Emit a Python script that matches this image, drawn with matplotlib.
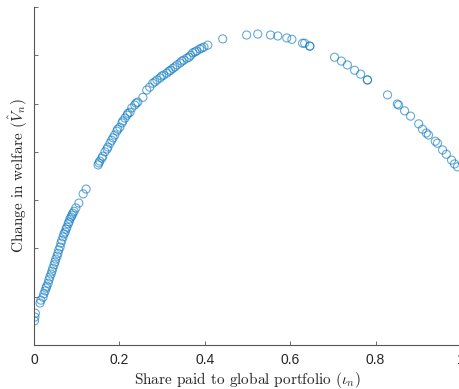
import matplotlib
matplotlib.use("Agg")
import matplotlib.pyplot as plt

# share paid to global portfolio (iota_n)
share = [
    0.001, 0.002, 0.003, 0.014, 0.016, 0.021,
    0.023, 0.026, 0.028, 0.030, 0.033, 0.035, 0.037, 0.040, 0.042, 0.044,
    0.047, 0.049, 0.051, 0.054, 0.056, 0.058, 0.061, 0.063, 0.065, 0.068,
    0.070, 0.073, 0.075, 0.077, 0.080, 0.082, 0.084, 0.087, 0.089, 0.091,
    0.094, 0.098, 0.105, 0.115, 0.122,
    0.150, 0.152, 0.154, 0.159, 0.161, 0.166, 0.171, 0.173, 0.178, 0.182,
    0.185, 0.189, 0.194, 0.196, 0.201, 0.206, 0.208, 0.213, 0.218, 0.220,
    0.225, 0.229, 0.236, 0.239, 0.243, 0.255, 0.264, 0.271, 0.278, 0.283,
    0.288, 0.295, 0.299, 0.304, 0.311, 0.316, 0.320, 0.325, 0.330, 0.335,
    0.342, 0.346, 0.351, 0.358, 0.363, 0.367, 0.372, 0.377, 0.381, 0.388,
    0.393, 0.398, 0.407, 0.442,
    0.498, 0.524, 0.554, 0.571, 0.592, 0.604, 0.629, 0.634, 0.646, 0.646,
    0.704, 0.720, 0.734, 0.751, 0.765, 0.781, 0.781, 0.828, 0.851, 0.854,
    0.868, 0.882, 0.901, 0.910, 0.919, 0.924, 0.940, 0.945, 0.957, 0.966,
    0.978, 0.985, 0.992,
]

# change in welfare (V_n hat), arbitrary units (axis has no tick labels)
welfare = [
    0.50, 0.58, 0.66, 0.87, 0.93, 0.99,
    1.06, 1.12, 1.18, 1.22, 1.28, 1.35, 1.41, 1.47, 1.53, 1.59,
    1.66, 1.72, 1.78, 1.84, 1.90, 1.97, 2.03, 2.11, 2.17, 2.24,
    2.30, 2.34, 2.40, 2.44, 2.51, 2.55, 2.61, 2.65, 2.69, 2.73,
    2.77, 2.84, 2.94, 3.13, 3.23,
    3.73, 3.77, 3.81, 3.87, 3.91, 4.00, 4.06, 4.10, 4.18, 4.24,
    4.29, 4.35, 4.43, 4.47, 4.51, 4.60, 4.64, 4.70, 4.76, 4.80,
    4.82, 4.91, 4.97, 5.01, 5.03, 5.13, 5.28, 5.34, 5.42, 5.45,
    5.49, 5.53, 5.57, 5.59, 5.63, 5.67, 5.69, 5.73, 5.76, 5.80,
    5.84, 5.88, 5.90, 5.94, 5.96, 6.00, 6.05, 6.07, 6.09, 6.13,
    6.15, 6.17, 6.21, 6.34,
    6.42, 6.44, 6.42, 6.40, 6.36, 6.33, 6.25, 6.25, 6.19, 6.19,
    5.96, 5.88, 5.80, 5.69, 5.61, 5.49, 5.49, 5.18, 4.99, 4.97,
    4.85, 4.74, 4.58, 4.47, 4.39, 4.35, 4.22, 4.18, 4.04, 3.95,
    3.83, 3.75, 3.69,
]

x_ticks = [0, 0.2, 0.4, 0.6, 0.8, 1]
x_tick_labels = ["0", "0.2", "0.4", "0.6", "0.8", "1"]
y_ticks = [0, 1, 2, 3, 4, 5, 6, 7]

plt.rcParams["mathtext.fontset"] = "cm"
plt.rcParams["axes.unicode_minus"] = False

fig = plt.figure(figsize=(4.6, 3.89), dpi=100)
ax = fig.add_axes([0.074, 0.113, 0.928, 0.869])

ax.scatter(share, welfare, s=34, facecolors="none", edgecolors="#0072BD",
           linewidths=0.8, alpha=0.6)

ax.set_xlim(0, 1)
ax.set_ylim(0, 7)
ax.set_xticks(x_ticks)
ax.set_xticklabels(x_tick_labels, family="Liberation Sans")
ax.set_yticks(y_ticks)
ax.set_yticklabels([])

for side in ["top", "right"]:
    ax.spines[side].set_visible(False)
for side in ["left", "bottom"]:
    ax.spines[side].set_color("#555555")
    ax.spines[side].set_linewidth(0.8)
ax.tick_params(direction="in", length=3, width=0.6, color="#555555",
               labelsize=10, labelcolor="#262626", pad=6)

ax.set_xlabel(r"Share paid to global portfolio ($\iota_n$)",
              family="cmr10", fontsize=11, color="#262626", labelpad=2)
ax.set_ylabel(r"Change in welfare ($\hat{V}_n$)",
              family="cmr10", fontsize=11, color="#262626", labelpad=-3)

fig.savefig("out.png", dpi=100)
